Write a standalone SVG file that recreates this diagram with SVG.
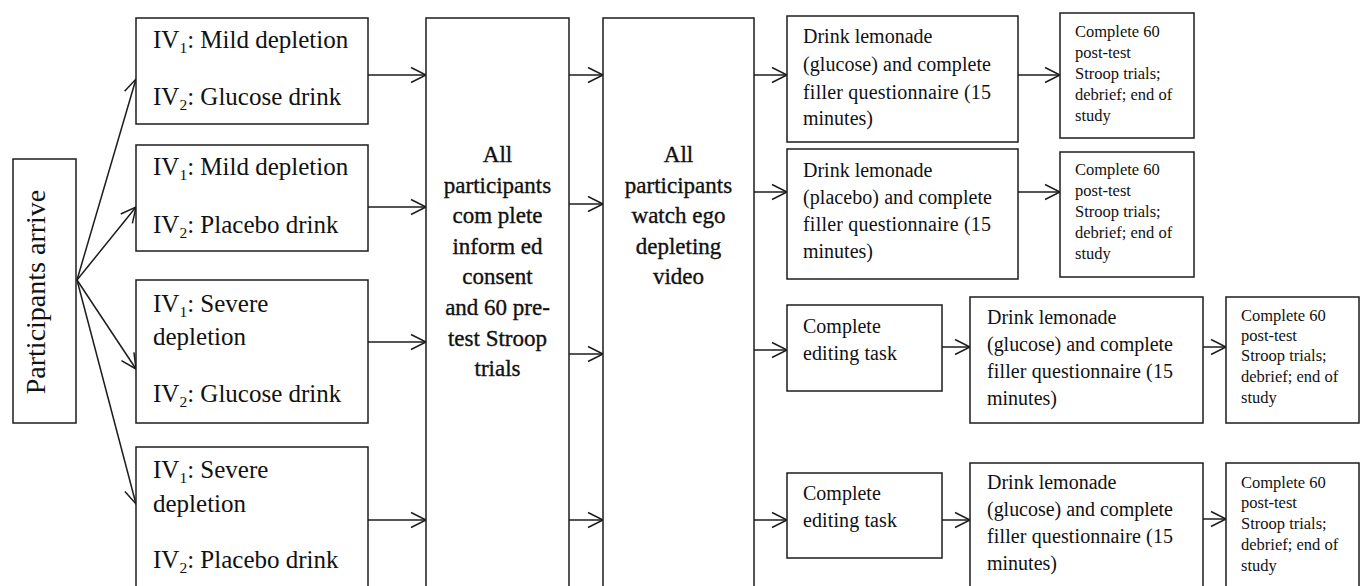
<svg xmlns="http://www.w3.org/2000/svg" width="1365" height="586" viewBox="0 0 1365 586">
  <style>
    .box { fill: #fff; stroke: #1c1c1c; stroke-width: 1.5; }
    .line { fill: none; stroke: #1c1c1c; stroke-width: 1.5; }
    .t { font-family: "Liberation Serif", "Times New Roman", serif; fill: #111; }
    .big { font-size: 25px; }
    .arrive { font-size: 28px; }
    .mid { font-size: 23px; text-anchor: middle; stroke: #111; stroke-width: 0.35; }
    .std { font-size: 20px; }
    .small { font-size: 16.5px; }
    .sub { font-size: 15.5px; }
  </style>
  <defs>
    <marker id="open-arrow" markerUnits="userSpaceOnUse" markerWidth="18" markerHeight="18" refX="15" refY="8" orient="auto" overflow="visible">
      <path d="M0,0.5 L15,8 L0,15.5" fill="none" stroke="#1c1c1c" stroke-width="1.5"/>
    </marker>
  </defs>
  <rect width="1365" height="586" fill="#fff"/>

  <!-- connectors -->
  <g id="connectors" class="line" marker-end="url(#open-arrow)">
    <!-- fan out from arrival -->
    <line x1="77" y1="280" x2="136" y2="79"/>
    <line x1="77" y1="280" x2="136" y2="207"/>
    <line x1="77" y1="280" x2="136" y2="369"/>
    <line x1="77" y1="280" x2="136" y2="504"/>
    <!-- conditions to consent -->
    <line x1="368" y1="75" x2="426" y2="75"/>
    <line x1="368" y1="207" x2="426" y2="207"/>
    <line x1="368" y1="342" x2="426" y2="342"/>
    <line x1="368" y1="520" x2="426" y2="520"/>
    <!-- consent to video -->
    <line x1="569" y1="75" x2="603" y2="75"/>
    <line x1="569" y1="204" x2="603" y2="204"/>
    <line x1="569" y1="354" x2="603" y2="354"/>
    <line x1="569" y1="520" x2="603" y2="520"/>
    <!-- video to next step -->
    <line x1="754" y1="75" x2="787" y2="75"/>
    <line x1="754" y1="192" x2="787" y2="192"/>
    <line x1="754" y1="350" x2="787" y2="350"/>
    <line x1="754" y1="520" x2="787" y2="520"/>
    <!-- drink to post-test -->
    <line x1="1018" y1="75" x2="1060" y2="75"/>
    <line x1="1018" y1="192" x2="1060" y2="192"/>
    <!-- editing to drink -->
    <line x1="942" y1="347" x2="970" y2="347"/>
    <line x1="942" y1="520" x2="970" y2="520"/>
    <!-- drink to post-test (editing rows) -->
    <line x1="1203" y1="347" x2="1226" y2="347"/>
    <line x1="1203" y1="519" x2="1226" y2="519"/>
  </g>

  <g id="arrive">
    <rect class="box" x="13" y="159" width="63" height="264"/>
    <text class="t arrive" transform="translate(45,292) rotate(-90)" text-anchor="middle">Participants arrive</text>
  </g>

  <g id="cond-mild-glucose">
    <rect class="box" x="136" y="18" width="232" height="106"/>
    <text class="t big" x="153" y="48">IV<tspan class="sub" dy="5">1</tspan><tspan dy="-5">: Mild depletion</tspan></text>
    <text class="t big" x="153" y="105">IV<tspan class="sub" dy="5">2</tspan><tspan dy="-5">: Glucose drink</tspan></text>
  </g>

  <g id="cond-mild-placebo">
    <rect class="box" x="136" y="145" width="232" height="106"/>
    <text class="t big" x="153" y="175">IV<tspan class="sub" dy="5">1</tspan><tspan dy="-5">: Mild depletion</tspan></text>
    <text class="t big" x="153" y="233">IV<tspan class="sub" dy="5">2</tspan><tspan dy="-5">: Placebo drink</tspan></text>
  </g>

  <g id="cond-severe-glucose">
    <rect class="box" x="136" y="280" width="232" height="143"/>
    <text class="t big" x="153" y="312">IV<tspan class="sub" dy="5">1</tspan><tspan dy="-5">: Severe</tspan></text>
    <text class="t big" x="153" y="345">depletion</text>
    <text class="t big" x="153" y="402">IV<tspan class="sub" dy="5">2</tspan><tspan dy="-5">: Glucose drink</tspan></text>
  </g>

  <g id="cond-severe-placebo">
    <rect class="box" x="136" y="447" width="232" height="160"/>
    <text class="t big" x="153" y="478">IV<tspan class="sub" dy="5">1</tspan><tspan dy="-5">: Severe</tspan></text>
    <text class="t big" x="153" y="512">depletion</text>
    <text class="t big" x="153" y="568">IV<tspan class="sub" dy="5">2</tspan><tspan dy="-5">: Placebo drink</tspan></text>
  </g>

  <g id="consent">
    <rect class="box" x="426" y="18" width="143" height="590"/>
    <text class="t mid" x="497.5" y="162">All</text>
    <text class="t mid" x="497.5" y="192.6">participants</text>
    <text class="t mid" x="497.5" y="223.2">com plete</text>
    <text class="t mid" x="497.5" y="253.8">inform ed</text>
    <text class="t mid" x="497.5" y="284.4">consent</text>
    <text class="t mid" x="497.5" y="315">and 60 pre-</text>
    <text class="t mid" x="497.5" y="345.6">test Stroop</text>
    <text class="t mid" x="497.5" y="376.2">trials</text>
  </g>

  <g id="video">
    <rect class="box" x="603" y="18" width="151" height="590"/>
    <text class="t mid" x="678.5" y="162">All</text>
    <text class="t mid" x="678.5" y="192.6">participants</text>
    <text class="t mid" x="678.5" y="223.2">watch ego</text>
    <text class="t mid" x="678.5" y="253.8">depleting</text>
    <text class="t mid" x="678.5" y="284.4">video</text>
  </g>

  <g id="drink-glucose-1">
    <rect class="box" x="787" y="16" width="231" height="126"/>
    <text class="t std" x="803" y="43">Drink lemonade</text>
    <text class="t std" x="803" y="71" textLength="188" lengthAdjust="spacing">(glucose) and complete</text>
    <text class="t std" x="803" y="99" textLength="188" lengthAdjust="spacing">filler questionnaire (15</text>
    <text class="t std" x="803" y="125">minutes)</text>
  </g>

  <g id="drink-placebo">
    <rect class="box" x="787" y="149" width="231" height="130"/>
    <text class="t std" x="803" y="177">Drink lemonade</text>
    <text class="t std" x="803" y="204" textLength="189" lengthAdjust="spacing">(placebo) and complete</text>
    <text class="t std" x="803" y="231" textLength="188" lengthAdjust="spacing">filler questionnaire (15</text>
    <text class="t std" x="803" y="258">minutes)</text>
  </g>

  <g id="posttest-1">
    <rect class="box" x="1060" y="13" width="134" height="125"/>
    <text class="t small" x="1075" y="37">Complete 60</text>
    <text class="t small" x="1075" y="58">post-test</text>
    <text class="t small" x="1075" y="79">Stroop trials;</text>
    <text class="t small" x="1075" y="100">debrief; end of</text>
    <text class="t small" x="1075" y="121">study</text>
  </g>

  <g id="posttest-2">
    <rect class="box" x="1060" y="152" width="134" height="125"/>
    <text class="t small" x="1075" y="175">Complete 60</text>
    <text class="t small" x="1075" y="196">post-test</text>
    <text class="t small" x="1075" y="217">Stroop trials;</text>
    <text class="t small" x="1075" y="238">debrief; end of</text>
    <text class="t small" x="1075" y="259">study</text>
  </g>

  <g id="editing-1">
    <rect class="box" x="787" y="305" width="155" height="86"/>
    <text class="t std" x="803" y="333">Complete</text>
    <text class="t std" x="803" y="360" textLength="94" lengthAdjust="spacing">editing task</text>
  </g>

  <g id="drink-glucose-2">
    <rect class="box" x="970" y="297" width="233" height="126"/>
    <text class="t std" x="987" y="324">Drink lemonade</text>
    <text class="t std" x="987" y="351" textLength="186" lengthAdjust="spacing">(glucose) and complete</text>
    <text class="t std" x="987" y="378" textLength="186" lengthAdjust="spacing">filler questionnaire (15</text>
    <text class="t std" x="987" y="405">minutes)</text>
  </g>

  <g id="posttest-3">
    <rect class="box" x="1226" y="297" width="133" height="126"/>
    <text class="t small" x="1241" y="321">Complete 60</text>
    <text class="t small" x="1241" y="341">post-test</text>
    <text class="t small" x="1241" y="361">Stroop trials;</text>
    <text class="t small" x="1241" y="382">debrief; end of</text>
    <text class="t small" x="1241" y="403">study</text>
  </g>

  <g id="editing-2">
    <rect class="box" x="787" y="473" width="155" height="85"/>
    <text class="t std" x="803" y="500">Complete</text>
    <text class="t std" x="803" y="527" textLength="94" lengthAdjust="spacing">editing task</text>
  </g>

  <g id="drink-glucose-3">
    <rect class="box" x="970" y="463" width="233" height="140"/>
    <text class="t std" x="987" y="489">Drink lemonade</text>
    <text class="t std" x="987" y="516" textLength="186" lengthAdjust="spacing">(glucose) and complete</text>
    <text class="t std" x="987" y="543" textLength="186" lengthAdjust="spacing">filler questionnaire (15</text>
    <text class="t std" x="987" y="570">minutes)</text>
  </g>

  <g id="posttest-4">
    <rect class="box" x="1226" y="463" width="133" height="140"/>
    <text class="t small" x="1241" y="488">Complete 60</text>
    <text class="t small" x="1241" y="508">post-test</text>
    <text class="t small" x="1241" y="529">Stroop trials;</text>
    <text class="t small" x="1241" y="550">debrief; end of</text>
    <text class="t small" x="1241" y="571">study</text>
  </g>
</svg>
